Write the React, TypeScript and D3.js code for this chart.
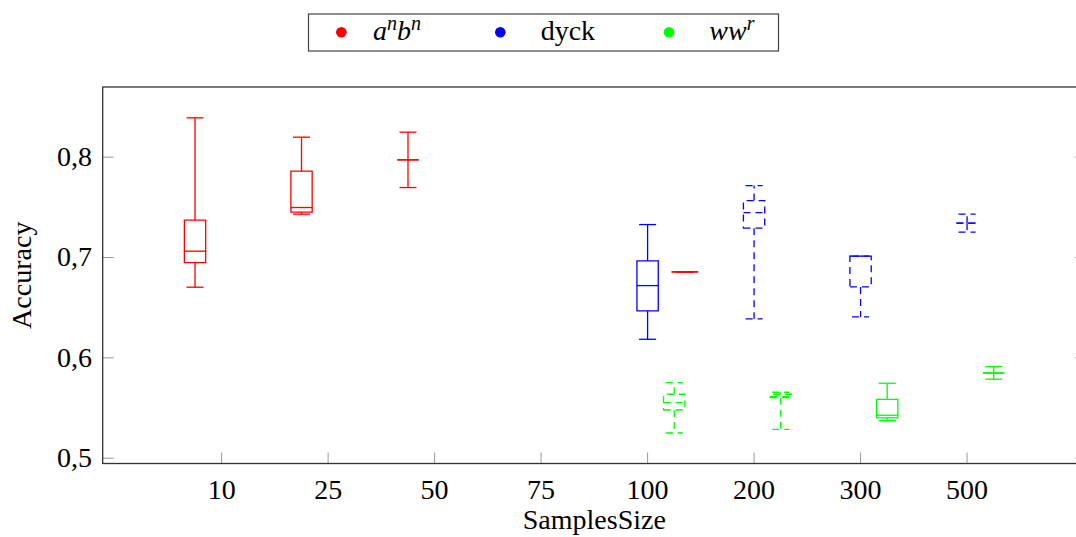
import React from "react";
import * as d3 from "d3";

// x tick labels (sample sizes), placed at positions 1..8
const categories = ["10", "25", "50", "75", "100", "200", "300", "500"];
const yTicks = [0.5, 0.6, 0.7, 0.8];

// box plot stats per series: at = draw position on the x axis
const anbnBoxes = [
  { at: 0.75, min: 0.6704, q1: 0.6949, median: 0.7063, q3: 0.7372, max: 0.8392 },
  { at: 1.75, min: 0.7432, q1: 0.7452, median: 0.7498, q3: 0.786, max: 0.8199 },
  { at: 2.75, min: 0.7697, q1: 0.7973, median: 0.7973, q3: 0.7973, max: 0.8249 },
  { at: 5.35, min: 0.6856, q1: 0.6856, median: 0.6856, q3: 0.6856, max: 0.6856 },
];
const dyckBoxes = [
  { at: 5.0, min: 0.6185, q1: 0.6468, median: 0.672, q3: 0.6966, max: 0.7328 },
  { at: 6.0, min: 0.6388, q1: 0.7292, median: 0.7448, q3: 0.7567, max: 0.7717 },
  { at: 7.0, min: 0.6408, q1: 0.6707, median: 0.7013, q3: 0.7013, max: 0.7013 },
  { at: 8.0, min: 0.7252, q1: 0.7342, median: 0.7342, q3: 0.7342, max: 0.7432 },
];
const wwrBoxes = [
  { at: 5.25, min: 0.5251, q1: 0.548, median: 0.5553, q3: 0.5637, max: 0.5753 },
  { at: 6.25, min: 0.5288, q1: 0.5603, median: 0.5613, q3: 0.5637, max: 0.5657 },
  { at: 7.25, min: 0.5374, q1: 0.5401, median: 0.5428, q3: 0.5587, max: 0.5747 },
  { at: 8.25, min: 0.5787, q1: 0.5849, median: 0.5849, q3: 0.5849, max: 0.5912 },
];

// which boxes are drawn dashed
const anbnDashed = [false, false, false, false];
const dyckDashed = [false, true, true, true];
const wwrDashed = [true, true, false, false];

const series = [
  { name: "anbn", color: "#ff0000", boxes: anbnBoxes, dashed: anbnDashed },
  { name: "dyck", color: "#0000ff", boxes: dyckBoxes, dashed: dyckDashed },
  { name: "wwr", color: "#00ff00", boxes: wwrBoxes, dashed: wwrDashed },
];

const W = 1076;
const H = 537;
const plot = { left: 102.7, right: 1086, top: 87, bottom: 463.5 };
const serif = { fontFamily: "'Liberation Serif', 'Times New Roman', serif" };

const x = d3.scaleLinear().domain([-0.117, 9.117]).range([plot.left, plot.right]);
const y = d3.scaleLinear().domain([0.4947, 0.8699]).range([plot.bottom, plot.top]);

const boxHalf = 0.1;
const capHalf = 0.08;

function Box({ b, color, dashed }) {
  const dash = dashed ? "7,5" : undefined;
  const cx = x(b.at);
  // a box with no spread is drawn as a slightly wider bar
  const flat = b.min === b.max;
  const bl = x(b.at - (flat ? 0.125 : boxHalf));
  const br = x(b.at + (flat ? 0.125 : boxHalf));
  const cl = x(b.at - capHalf);
  const cr = x(b.at + capHalf);
  const common = { stroke: color, strokeWidth: 1.3, fill: "none", strokeDasharray: dash };
  return (
    <g>
      <line x1={cx} x2={cx} y1={y(b.q3)} y2={y(b.max)} {...common} />
      <line x1={cx} x2={cx} y1={y(b.q1)} y2={y(b.min)} {...common} />
      <line x1={cl} x2={cr} y1={y(b.max)} y2={y(b.max)} {...common} />
      <line x1={cl} x2={cr} y1={y(b.min)} y2={y(b.min)} {...common} />
      <path d={`M${bl},${y(b.q1)}H${br}V${y(b.q3)}H${bl}Z`} {...common} />
      <line x1={bl} x2={br} y1={y(b.median)} y2={y(b.median)} {...common} />
    </g>
  );
}

export default function App() {
  const tickLen = 11;
  return (
    <div style={{ position: "absolute", left: 0, top: 0 }}>
      <svg width={W} height={H} style={{ display: "block", background: "#fff", ...serif }}>
        {/* ticks */}
        {yTicks.map((t) => (
          <g key={t}>
            <line x1={plot.left} x2={plot.left + tickLen} y1={y(t)} y2={y(t)} stroke="#999" strokeWidth={1} />
            <line x1={plot.right - tickLen} x2={plot.right} y1={y(t)} y2={y(t)} stroke="#999" strokeWidth={1} />
            <text x={92} y={y(t) + 9} textAnchor="end" fontSize={28} fill="#000" style={serif}>
              {d3.format(".1f")(t).replace(".", ",")}
            </text>
          </g>
        ))}
        {categories.map((c, i) => (
          <g key={c}>
            <line x1={x(i + 1)} x2={x(i + 1)} y1={plot.bottom} y2={plot.bottom - tickLen} stroke="#999" strokeWidth={1} />
            <text x={x(i + 1)} y={499} textAnchor="middle" fontSize={28} fill="#000" style={serif}>
              {c}
            </text>
          </g>
        ))}

        {/* boxes */}
        {series.map((s) =>
          s.boxes.map((b, i) => <Box key={s.name + i} b={b} color={s.color} dashed={s.dashed[i]} />)
        )}

        {/* frame */}
        <rect
          x={plot.left}
          y={plot.top}
          width={plot.right - plot.left}
          height={plot.bottom - plot.top}
          fill="none"
          stroke="#333"
          strokeWidth={1.3}
        />

        {/* axis labels */}
        <text x={(plot.left + plot.right) / 2} y={529} textAnchor="middle" fontSize={28} fill="#000" style={serif}>
          SamplesSize
        </text>
        <text
          transform={`translate(31,${(plot.top + plot.bottom) / 2}) rotate(-90)`}
          textAnchor="middle"
          fontSize={28}
          fill="#000"
          style={serif}
        >
          Accuracy
        </text>

        {/* legend */}
        <rect x={308.5} y={14} width={470} height={37} fill="#fff" stroke="#444" strokeWidth={1.2} />
        <circle cx={341.3} cy={32.3} r={5.3} fill={series[0].color} />
        <text x={373} y={39.5} fontSize={28} fill="#000" style={serif}>
          <tspan fontStyle="italic">a</tspan>
          <tspan fontStyle="italic" fontSize={20} dy={-10}>n</tspan>
          <tspan fontStyle="italic" dy={10}>b</tspan>
          <tspan fontStyle="italic" fontSize={20} dy={-10}>n</tspan>
        </text>
        <circle cx={500.3} cy={32.3} r={5.3} fill={series[1].color} />
        <text x={540.7} y={39.5} fontSize={28} fill="#000" style={serif}>dyck</text>
        <circle cx={669} cy={32.3} r={5.3} fill={series[2].color} />
        <text x={709.3} y={39.5} fontSize={28} fill="#000" style={serif}>
          <tspan fontStyle="italic">ww</tspan>
          <tspan fontStyle="italic" fontSize={20} dy={-10}>r</tspan>
        </text>
      </svg>
    </div>
  );
}
